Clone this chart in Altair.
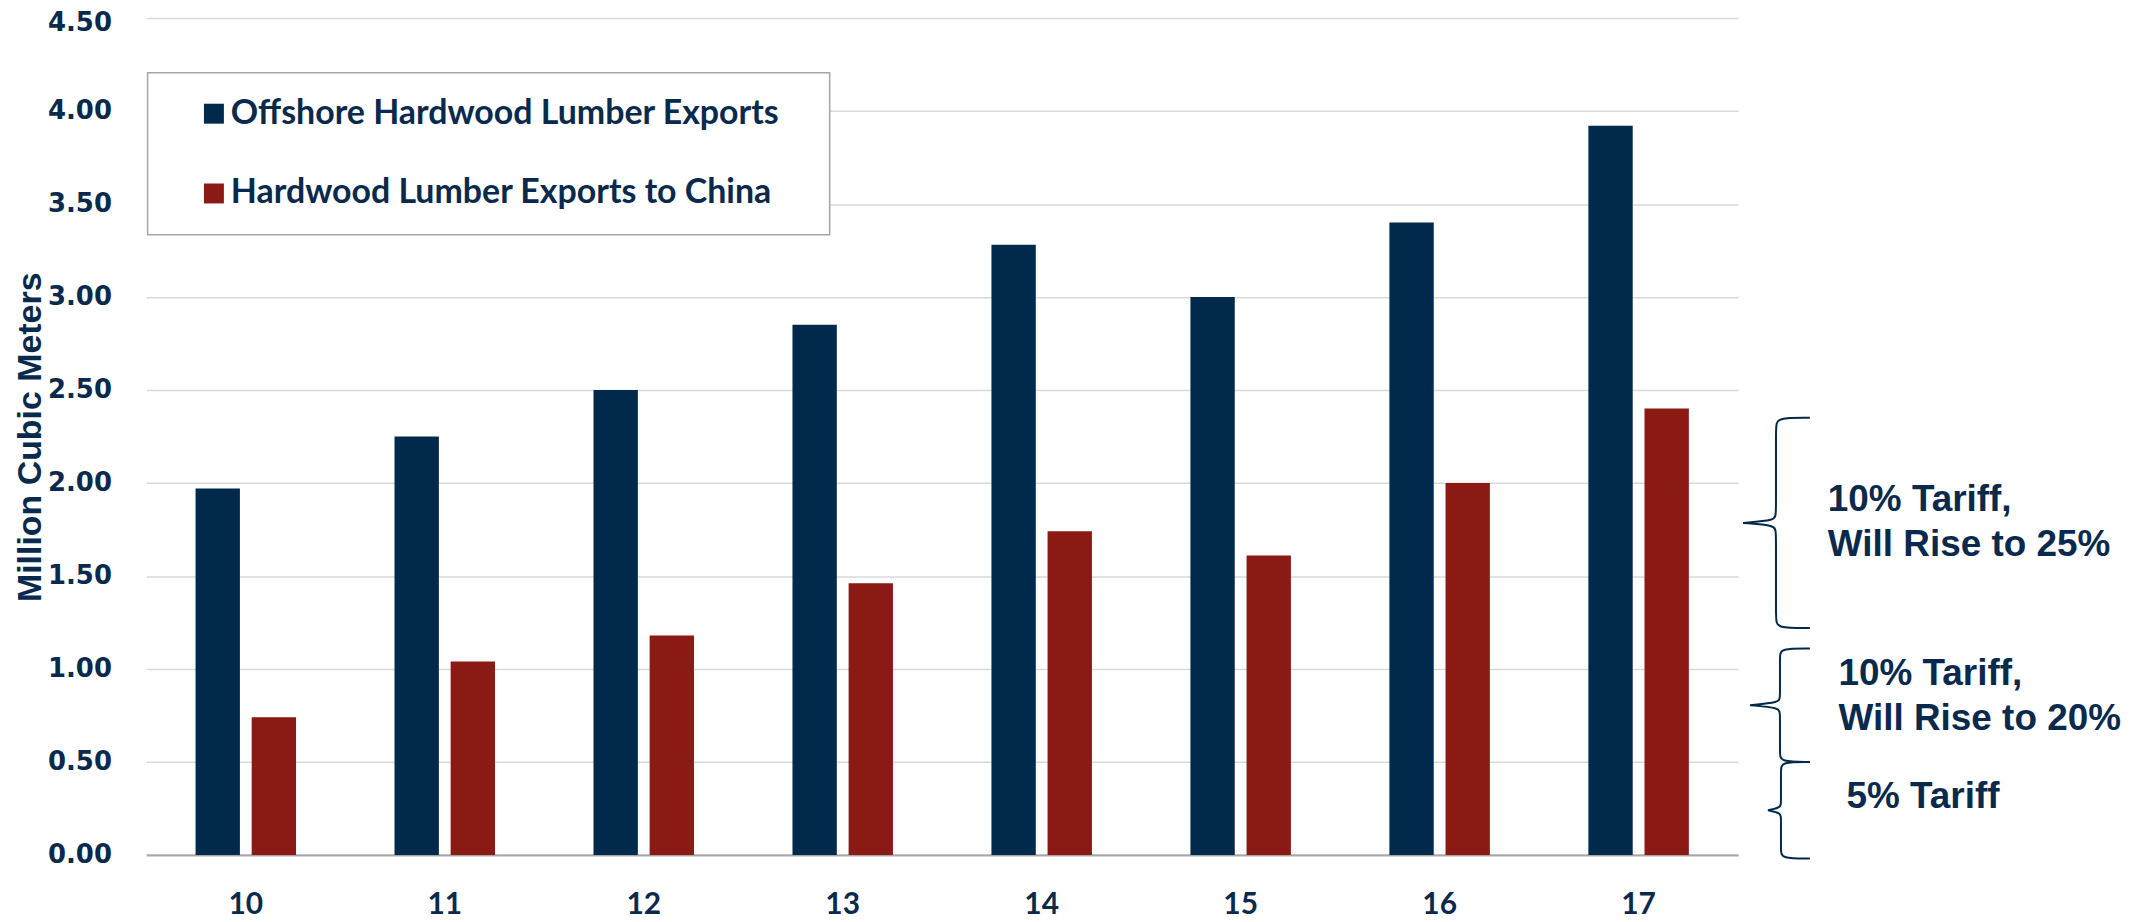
import altair as alt
import pandas as pd

# ---- data ----
years = ["10", "11", "12", "13", "14", "15", "16", "17"]
offshore = [1.97, 2.25, 2.50, 2.85, 3.28, 3.00, 3.40, 3.92]
china = [0.74, 1.04, 1.18, 1.46, 1.74, 1.61, 2.00, 2.40]
series_names = ["Offshore Hardwood Lumber Exports", "Hardwood Lumber Exports to China"]
y_ticks = [0, 0.5, 1.0, 1.5, 2.0, 2.5, 3.0, 3.5, 4.0, 4.5]

# tariff brackets (in million cubic meters on the y axis)
band_lo = [1.22, 0.50, -0.02]
band_hi = [2.35, 1.11, 0.50]
band_text = ["10% Tariff,\nWill Rise to 25%", "10% Tariff,\nWill Rise to 20%", "5% Tariff"]
band_text_y = [1.85, 0.915, 0.25]

# ---- layout / style ----
W, H = 1596.3, 839.3
NAVY = "#00294C"
RED = "#8B1914"
TXT = "#0A2A4D"
brace_spine = [1634.3, 1638.3, 1639.3]
brace_tip = [1601.3, 1608.3, 1626.3]
brace_end = [1668.3, 1668.3, 1668.3]
text_x = [1686.3, 1697.0, 1705.0]

rows = []
for yr, a, b in zip(years, offshore, china):
    rows.append({"year": yr, "series": series_names[0], "value": a})
    rows.append({"year": yr, "series": series_names[1], "value": b})
bars_df = pd.DataFrame(rows)

# brace outlines
r = 0.043
brace_rows = []
for i in range(3):
    top, bot = band_hi[i], band_lo[i]
    mid = (top + bot) / 2
    s, t, e = brace_spine[i], brace_tip[i], brace_end[i]
    pts = [(e, top), (s, top), (s, top - r), (s, mid + r), (s, mid + r / 3),
           (t, mid), (t, mid), (t, mid),
           (s, mid - r / 3), (s, mid - r), (s, bot + r), (s, bot), (e, bot)]
    for k, (px, py) in enumerate(pts):
        brace_rows.append({"g": i, "o": k, "px": px, "value": py})
brace_df = pd.DataFrame(brace_rows)

text_df = pd.DataFrame({"px": text_x, "value": band_text_y, "label": band_text})

ytitle = "Million Cubic Meters"

bars = alt.Chart(bars_df).mark_bar().encode(
    x=alt.X("year:N", sort=years,
            scale=alt.Scale(paddingInner=0.495, paddingOuter=0.2475),
            axis=alt.Axis(title=None, labelAngle=0, ticks=False, grid=False,
                          labelFont="Lato", labelFontSize=30, labelFontWeight="bold",
                          labelColor=TXT, labelPadding=35,
                          domainColor="#A6A6A6", domainWidth=2)),
    xOffset=alt.XOffset("series:N", sort=series_names,
                        scale=alt.Scale(paddingInner=0.21, paddingOuter=0)),
    y=alt.Y("value:Q", title=ytitle,
            scale=alt.Scale(domain=[0, 4.5], nice=False, zero=True),
            axis=alt.Axis(values=y_ticks, format=".2f", ticks=False, domain=False,
                          grid=True, gridColor="#D9D9D9", gridWidth=1.5,
                          labelFont="DejaVu Sans", labelFontSize=26, labelFontWeight="bold",
                          labelColor=TXT, labelPadding=35,
                          labelOffset=alt.ExprRef("datum.value >= 4.5 ? 5 : 0"),
                          titleFont="Liberation Sans", titleFontSize=34, titleFontWeight="bold",
                          titleColor=TXT, titleAngle=270, titleX=-106, titleY=420,
                          titleAlign="center", titleBaseline="alphabetic")),
    color=alt.Color("series:N", sort=series_names,
                    scale=alt.Scale(domain=series_names, range=[NAVY, RED]),
                    legend=alt.Legend(title=None, orient="none", legendX=50.8, legendY=79,
                                      symbolType="square", symbolSize=400,
                                      symbolStrokeWidth=0,
                                      labelFont="Lato", labelFontSize=34,
                                      labelFontWeight="bold", labelColor=TXT,
                                      labelLimit=1000, labelOffset=0,
                                      rowPadding=46, padding=0)),
)

box = alt.Chart(pd.DataFrame({"k": [0]})).mark_rect(
    fill="white", stroke="#A6A6A6", strokeWidth=1.5
).encode(
    x=alt.value(1.3), x2=alt.value(685.3), y=alt.value(55), y2=alt.value(217.3)
)

braces = alt.Chart(brace_df).mark_line(
    interpolate="basis", color=NAVY, strokeWidth=2
).encode(
    x=alt.X("px:Q", scale=alt.Scale(domain=[0, W], nice=False, zero=False), axis=None),
    y=alt.Y("value:Q", title=ytitle),
    detail="g:N",
    order="o:Q",
)

texts = alt.Chart(text_df).mark_text(
    align="left", baseline="alphabetic", font="Liberation Sans", fontSize=37,
    fontWeight="bold", color=TXT, lineBreak="\n", lineHeight=45
).encode(
    x=alt.X("px:Q", scale=alt.Scale(domain=[0, W], nice=False, zero=False), axis=None),
    y=alt.Y("value:Q", title=ytitle),
    text="label:N",
)

chart = alt.layer(bars, box, braces, texts).resolve_scale(
    x="independent"
).properties(
    width=W, height=H,
    autosize=alt.AutoSizeParams(type="none"),
    padding={"left": 138.7, "top": 8.7, "right": 386, "bottom": 64},
).configure_view(stroke=None)

chart.save("out.html", embed_options={"renderer": "svg", "actions": False})
